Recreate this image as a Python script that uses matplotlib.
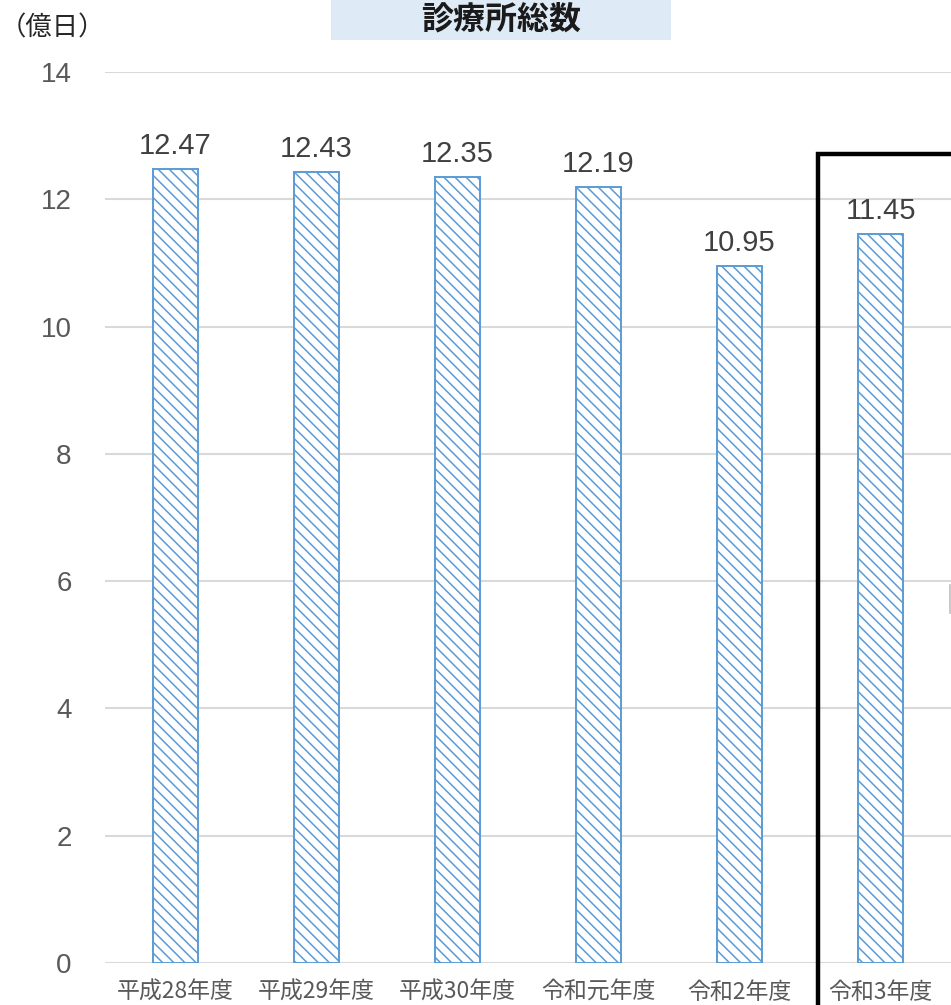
import matplotlib
matplotlib.use("Agg")
import matplotlib.pyplot as plt
from matplotlib.patches import Rectangle
from matplotlib.lines import Line2D

categories = ["平成28年度", "平成29年度", "平成30年度", "令和元年度", "令和2年度", "令和3年度"]
values = [12.47, 12.43, 12.35, 12.19, 10.95, 11.45]
yticks = [0, 2, 4, 6, 8, 10, 12, 14]
title = "診療所総数"
unit = "（億日）"

plt.rcParams['font.family'] = ['Liberation Sans', 'Noto Sans CJK JP', 'DejaVu Sans']
plt.rcParams['hatch.linewidth'] = 1.1
plt.rcParams['hatch.color'] = '#5B9BD5'

W, H = 951, 1005
fig = plt.figure(figsize=(W / 100, H / 100), dpi=100)
ax = fig.add_axes([105 / W, 42 / H, 846 / W, 891 / H])

x = list(range(len(categories)))
bars = ax.bar(x, values, width=0.32, facecolor='white', edgecolor='#5B9BD5',
              linewidth=1.4, hatch='\\\\\\', zorder=3)

for xi, v in zip(x, values):
    ax.annotate(f"{v:.2f}", (xi, v), xytext=(0, 11), textcoords='offset points',
                ha='center', va='baseline', fontsize=21, color='#404040',
                family=['Liberation Sans', 'DejaVu Sans'])

ax.set_xlim(-0.5, 5.5)
ax.set_ylim(0, 14)
ax.set_yticks(yticks)
ax.set_yticklabels([str(t) for t in yticks], fontsize=20, color='#595959',
                   family=['Liberation Sans', 'DejaVu Sans'])
ax.set_xticks(x)
ax.set_xticklabels(categories, fontsize=16.5, color='#595959',
                   family=['Noto Sans CJK JP', 'DejaVu Sans'])
ax.tick_params(axis='y', length=0, pad=24)
ax.tick_params(axis='x', length=0, pad=13)
ax.grid(axis='y', color='#D9D9D9', linewidth=1.5, zorder=0)
ax.set_axisbelow(True)
for s in ax.spines.values():
    s.set_visible(False)

# Title box
fig.add_artist(Rectangle((331 / W, 1 - 40 / H), 340 / W, 40 / H, transform=fig.transFigure,
                         facecolor='#DEEAF6', edgecolor='none', zorder=1))
fig.text(501 / W, 1 - 19 / H, title, ha='center', va='center', fontsize=23,
         fontweight='bold', color='#1a1a1a', family=['Noto Sans CJK JP', 'DejaVu Sans'], zorder=2)

# unit label
fig.text(0 / W, 1 - 28 / H, unit, ha='left', va='center', fontsize=19,
         color='#262626', family=['Noto Sans CJK JP', 'DejaVu Sans'])

# black highlight frame (extends beyond figure)
fig.add_artist(Rectangle((818 / W, -0.1), 0.5, 1.1 - 154 / H, transform=fig.transFigure,
                         facecolor='none', edgecolor='black', linewidth=3.2, zorder=5))

# partial callout edge at right border
fig.add_artist(Line2D([950 / W, 950 / W], [1 - 585 / H, 1 - 613 / H], transform=fig.transFigure,
                      color='#BFBFBF', linewidth=1.2))

fig.savefig("out.png", dpi=100)
